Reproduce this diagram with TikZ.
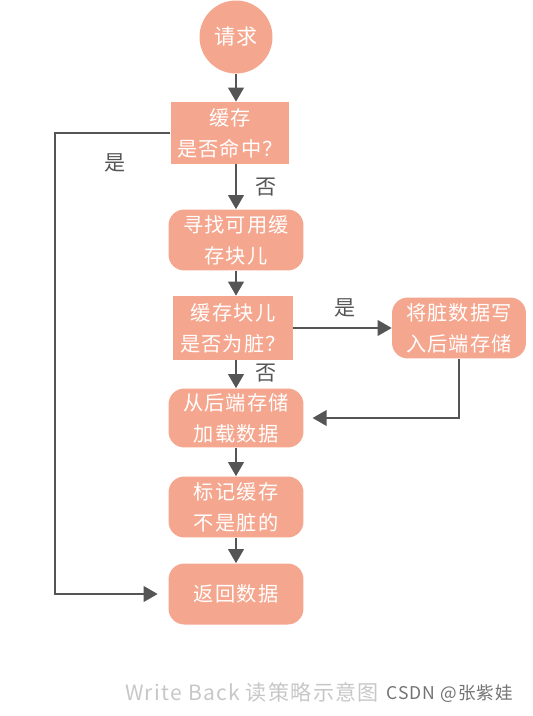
\documentclass[tikz,border=0pt]{standalone}
\usepackage{fontspec}
\setmainfont{Noto Sans CJK SC}[LetterSpace=6]
\usepackage{xcolor}
\usetikzlibrary{arrows.meta}
\definecolor{salmon}{RGB}{245,166,142}
\definecolor{pencil}{RGB}{85,85,85}
\tikzset{>={Triangle[width=9pt,length=8pt]}}

\begin{document}
\begin{tikzpicture}[x=0.02cm,y=-0.02cm,
    box/.style={fill=salmon, text=white, align=center, font=\fontsize{11.5}{17.5}\selectfont,
                minimum width=2.7cm, minimum height=1.22cm, inner sep=2pt},
    rbox/.style={box, rounded corners=9pt},
    flow/.style={draw=pencil, line width=0.9pt, ->},
    lbl/.style={text=pencil, font=\fontsize{12}{14}\selectfont}]
        \useasboundingbox (0,0) rectangle (533,716);

        % start
        \node[circle, fill=salmon, text=white, minimum size=1.46cm, inner sep=0pt,
              font=\fontsize{12}{14}\selectfont] (req) at (236,37) {请求};

        % blocks
        \node[box, minimum width=2.38cm, minimum height=1.24cm] (hit) at (230,133) {缓存\\是否命中？};
        \node[rbox] (find) at (236,240) {寻找可用缓\\存块儿};
        \node[box, minimum width=2.4cm, minimum height=1.28cm] (dirty) at (233,328) {缓存块儿\\是否为脏？};
        \node[rbox, minimum width=2.68cm] (wb) at (459,328) {将脏数据写\\入后端存储};
        \node[rbox, minimum height=1.18cm] (load) at (236,418) {从后端存储\\加载数据};
        \node[rbox] (mark) at (236,507) {标记缓存\\不是脏的};
        \node[rbox] (ret) at (236,594) {返回数据};

        % arrows down the middle
        \draw[flow] (req) -- (req |- hit.north);
        \draw[flow] (hit.south -| find) -- (find);
        \draw[flow] (find) -- (find |- dirty.north);
        \draw[flow] (dirty.south -| load) -- (load);
        \draw[flow] (load) -- (mark);
        \draw[flow] (mark) -- (ret);

        % side branches
        \draw[flow] (dirty) -- (wb);
        \draw[flow, shorten >=5pt] (wb.south) |- (load.east);
        \draw[flow, shorten >=6pt] (hit.west) -- ++(-115,0) |- (ret.west);

        % yes / no
        \node[lbl] (no1) at (266,187) {否};
        \node[lbl] (no2) at (266,373) {否};
        \node[lbl] (yes1) at (345,308) {是};
        \node[lbl] (yes2) at (115,163) {是};

        % caption
        \node[text=black!22, font=\fontsize{12}{14}\selectfont] (cap) at (252,692) {Write Back 读策略示意图};
        \node[text=black!55, font=\fontsize{10}{12}\selectfont, anchor=west] (csdn) at (380,694) {CSDN @张紫娃};
\end{tikzpicture}
\end{document}
